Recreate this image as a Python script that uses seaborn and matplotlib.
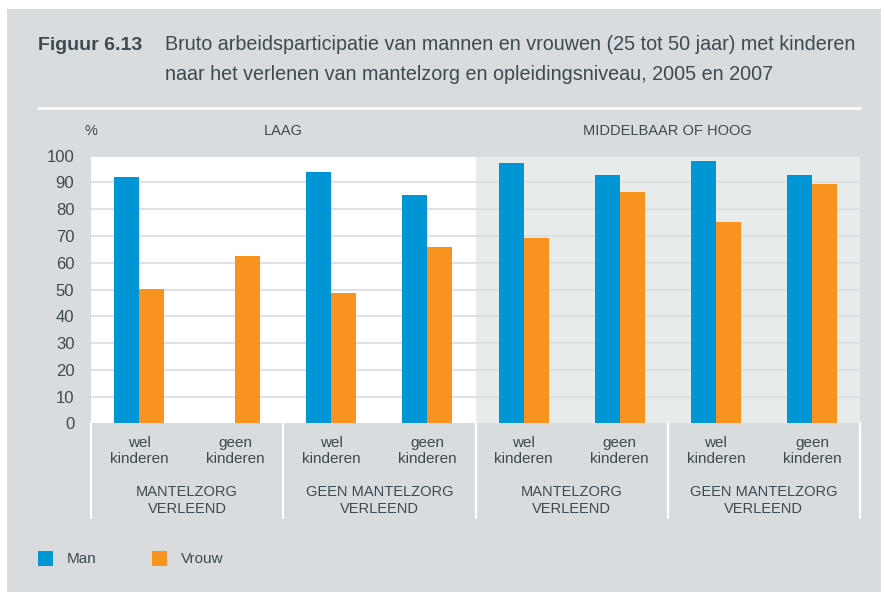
import matplotlib
matplotlib.use("Agg")
import matplotlib.pyplot as plt
import matplotlib.font_manager as fm
from matplotlib.patches import Rectangle
from matplotlib.lines import Line2D
import matplotlib.transforms as mtransforms
import numpy as np
import pandas as pd
import seaborn as sns

# ---- data -------------------------------------------------------------
levels = ["LAAG", "MIDDELBAAR OF HOOG"]
care = ["MANTELZORG\nVERLEEND", "GEEN MANTELZORG\nVERLEEND"]
kids = ["wel\nkinderen", "geen\nkinderen"]
series = ["Man", "Vrouw"]
man = [92.0, np.nan, 93.9, 85.3, 97.3, 92.8, 98.0, 92.8]
vrouw = [50.1, 62.5, 48.6, 65.9, 69.2, 86.4, 75.2, 89.4]
yticks = list(range(0, 101, 10))

BLUE = "#0096d6"
ORANGE = "#f7931e"
BG = "#d9dcdf"
PANEL = "#e7ebec"
GRID = "#dcdfe2"
TXT = "#3d4a4f"

sns.set_theme(style="white")
names = {f.name for f in fm.fontManager.ttflist}
narrow = "Liberation Sans Narrow" if "Liberation Sans Narrow" in names else "Liberation Sans"
plt.rcParams["font.family"] = ["Liberation Sans", "DejaVu Sans"]

W, H = 885, 592
fig = plt.figure(figsize=(W / 100, H / 100), dpi=100)
fig.patch.set_facecolor("white")


def fx(px):
    return px / W


def fy(py):
    return 1 - py / H


# grey page panel
fig.patches.append(Rectangle((fx(7), fy(592)), fx(881) - fx(7), fy(9) - fy(592),
                             transform=fig.transFigure, facecolor=BG, edgecolor="none", zorder=-10))

# title block
fig.text(fx(38), fy(45), "Figuur 6.13", fontsize=14, fontweight="bold", family=narrow,
         color=TXT, va="center", ha="left")
fig.text(fx(165), fy(45), "Bruto arbeidsparticipatie van mannen en vrouwen (25 tot 50 jaar) met kinderen",
         fontsize=14.2, family=narrow, color=TXT, va="center", ha="left")
fig.text(fx(165), fy(75), "naar het verlenen van mantelzorg en opleidingsniveau, 2005 en 2007",
         fontsize=14.2, family=narrow, color=TXT, va="center", ha="left")
fig.lines.append(Line2D([fx(38), fx(860)], [fy(108), fy(108)], transform=fig.transFigure,
                        color="white", linewidth=1.8, zorder=-5))

# ---- chart ------------------------------------------------------------
top, bottom, left, right = 155.7, 423.3, 91, 860
ax = fig.add_axes([fx(left), fy(bottom), fx(right) - fx(left), fy(top) - fy(bottom)])
ax.set_zorder(2)
ax.set_facecolor("white")

cats = [f"{lv}|{c}|{k}" for lv in levels for c in care for k in kids]
df = pd.DataFrame({
    "cat": cats * 2,
    "geslacht": [series[0]] * 8 + [series[1]] * 8,
    "waarde": man + vrouw,
})
sns.barplot(data=df, x="cat", y="waarde", hue="geslacht", order=cats, hue_order=series,
            palette=[BLUE, ORANGE], width=0.52, saturation=1, errorbar=None,
            legend=False, ax=ax, zorder=3, linewidth=0, edgecolor="none")

ax.set_xlim(-0.5, 7.5)
ax.set_ylim(0, 100)
ax.axvspan(3.5, 7.5, color=PANEL, zorder=0, linewidth=0)
for v in yticks[1:]:
    ax.axhline(v, color=GRID, linewidth=1.3, zorder=1)
for s in ax.spines.values():
    s.set_visible(False)
ax.set_xlabel("")
ax.set_ylabel("")
ax.set_xticks([])
ax.set_yticks(yticks)
ax.tick_params(axis="y", length=0, pad=12, labelsize=12, labelcolor=TXT)

xt = mtransforms.blended_transform_factory(ax.transData, ax.transAxes)
ph = bottom - top

# headers above the plot
ax.text(-0.5, 1 + 24.5 / ph, "%", transform=xt, ha="center", va="center", fontsize=10.5, color=TXT)
ax.text(1.5, 1 + 24.5 / ph, levels[0], transform=xt, ha="center", va="center", fontsize=10.5, color=TXT)
ax.text(5.5, 1 + 24.5 / ph, levels[1], transform=xt, ha="center", va="center", fontsize=10.5, color=TXT)

# category labels beneath the bars
for i, c in enumerate(cats):
    lv, cr, kd = c.split("|")
    ax.text(i, -(451 - bottom) / ph, kd, transform=xt, ha="center", va="center",
            fontsize=11, color=TXT, linespacing=1.2)
for j in range(4):
    ax.text(2 * j + 0.5, -(500.5 - bottom) / ph, care[j % 2], transform=xt, ha="center",
            va="center", fontsize=10.5, color=TXT, linespacing=1.2)

# white separators between the groups
for xs in [-0.5, 1.5, 3.5, 5.5, 7.5]:
    ax.add_line(Line2D([xs, xs], [0, -(518 - bottom) / ph], transform=xt, color="white",
                       linewidth=1.6, clip_on=False))

# legend
for x0, label, col in [(38, series[0], BLUE), (152, series[1], ORANGE)]:
    fig.patches.append(Rectangle((fx(x0), fy(566)), fx(15), 15 / H, transform=fig.transFigure,
                                 facecolor=col, edgecolor="none"))
    fig.text(fx(x0 + 29), fy(559), label, fontsize=11, color=TXT, va="center", ha="left")

fig.savefig("out.png", dpi=100, facecolor="white")
